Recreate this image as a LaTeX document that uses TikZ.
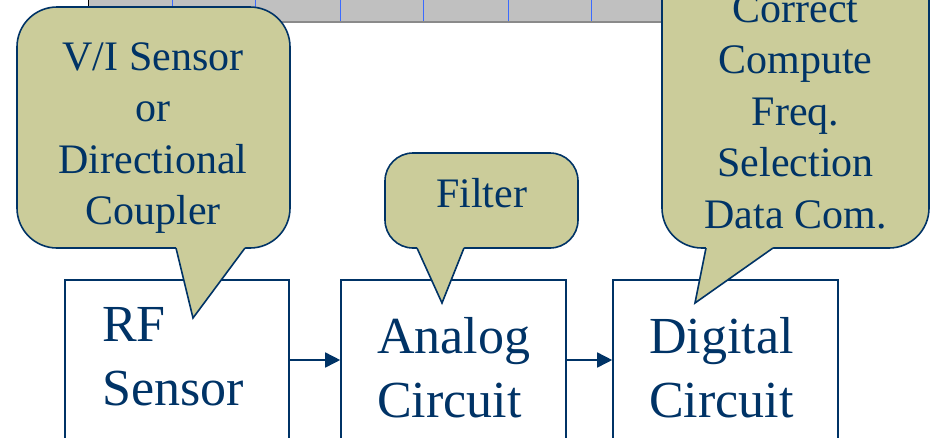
\documentclass[tikz,border=0pt]{standalone}
\usepackage{fontspec}
\setmainfont{Liberation Serif}
\usetikzlibrary{arrows.meta}

\definecolor{navy}{HTML}{003366}
\definecolor{khaki}{HTML}{CBCC9A}
\definecolor{stripgray}{HTML}{C0C0C0}
\definecolor{stripedge}{HTML}{8A8A8A}
\definecolor{gridblue}{HTML}{3B6BFF}

\newcommand\bubblefont{\fontsize{42}{51.6}\selectfont}
\newcommand\blockfont{\fontsize{52}{64.5}\selectfont}

\begin{document}
\begin{tikzpicture}[x=1pt,y=-1pt,
  bubble/.style={draw=navy, fill=khaki, line width=1.6pt, rounded corners=#1, inner sep=0pt},
  block/.style={draw=navy, fill=white, line width=1.6pt, inner sep=0pt,
                minimum width=224pt, minimum height=160pt},
  bubbletext/.style={text=navy, font=\bubblefont, inner sep=0pt, anchor=base},
  blocktext/.style={text=navy, font=\blockfont, inner sep=0pt, anchor=base west},
  tailfill/.style={fill=khaki},
  tailedge/.style={draw=navy, line width=1.6pt, line join=miter},
  flow/.style={draw=navy, line width=1.6pt, -{Triangle[length=15pt,width=15pt]}}
]
\clip (0,0) rectangle (931,437);
\fill[white] (0,0) rectangle (931,437);

% toolbar strip along the top edge
\fill[stripgray] (88,-5) rectangle (668,22);
\foreach \gx in {172,255,340,423,508,591}
  \draw[gridblue, line width=0.8pt] (\gx,-5) -- (\gx,21);
\draw[black, line width=1.2pt] (88.6,-5) -- (88.6,22);
\draw[stripedge, line width=1.2pt] (88,22) -- (668,22);

% processing blocks
\node[block] (rf) at (177,360) {};
\node[block, minimum width=225pt] (an) at (453.5,360) {};
\node[block, minimum width=225pt] (dg) at (725.5,360) {};

\draw[flow] (rf) -- (an);
\draw[flow] (an) -- (dg);

% speech bubbles
\node[bubble=40pt, minimum width=273pt, minimum height=241pt] (b1) at (153.5,127.5) {};
\node[bubble=28pt, minimum width=193pt, minimum height=95pt] (b2) at (481.5,200.5) {};
\node[bubble=40pt, minimum width=267pt, minimum height=288pt] (b3) at (795.5,104) {};

% bubble tails
\coordinate (p1) at (193,318);
\coordinate (p2) at (442,303);
\coordinate (p3) at (695,303);

\fill[tailfill] (176,244) -- (176,248) -- (p1) -- (245,248) -- (245,244) -- cycle;
\draw[tailedge] (176,248) -- (p1) -- (245,248);

\fill[tailfill] (417,244) -- (417,248) -- (p2) -- (464,248) -- (464,244) -- cycle;
\draw[tailedge] (417,248) -- (p2) -- (464,248);

\fill[tailfill] (706,244) -- (706,248) -- (p3) -- (773,248) -- (773,244) -- cycle;
\draw[tailedge] (706,248) -- (p3) -- (773,248);

% bubble texts
\node[bubbletext] (t1) at (153,70)
  {\begin{tabular}[t]{@{}c@{}}V/I Sensor\\or\\Directional\\Coupler\end{tabular}};
\node[bubbletext] (t2) at (481.5,207) {Filter};
\node[bubbletext] (t3) at (795.5,22)
  {\begin{tabular}[t]{@{}c@{}}Correct\\Compute\\Freq.\\Selection\\Data Com.\end{tabular}};

% block texts
\node[blocktext] (l1) at (102,341)
  {\begin{tabular}[t]{@{}l@{}}RF\\Sensor\end{tabular}};
\node[blocktext] (l2) at (377,353)
  {\begin{tabular}[t]{@{}l@{}}Analog\\Circuit\end{tabular}};
\node[blocktext] (l3) at (649,353)
  {\begin{tabular}[t]{@{}l@{}}Digital\\Circuit\end{tabular}};
\end{tikzpicture}
\end{document}
